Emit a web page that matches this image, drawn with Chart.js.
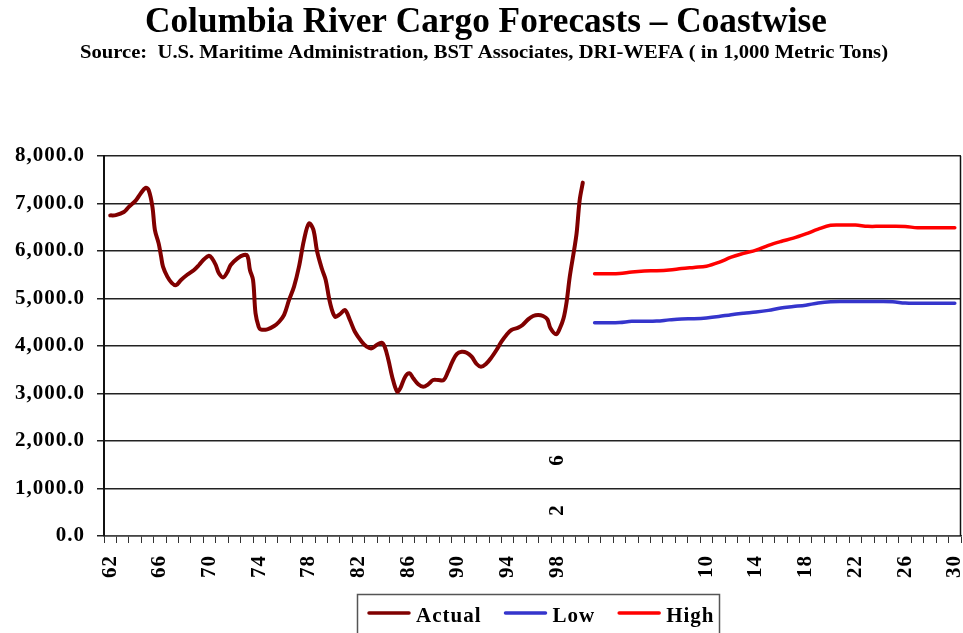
<!DOCTYPE html>
<html>
<head>
<meta charset="utf-8">
<script src="https://cdn.jsdelivr.net/npm/chart.js@4.4.1/dist/chart.umd.min.js"></script>
<style>
  html, body { margin: 0; padding: 0; background: #ffffff; }
  canvas { display: block; }
</style>
</head>
<body>
<canvas id="c" width="963" height="633"></canvas>
<script>
// ---- text ----
const titleText = 'Columbia River Cargo Forecasts \u2013 Coastwise';
const subtitleText = 'Source:  U.S. Maritime Administration, BST Associates, DRI-WEFA ( in 1,000 Metric Tons)';
const seriesNames = ['Actual', 'Low', 'High'];

// ---- category axis (one slot per year) ----
const categoryYears = [1962, 1963, 1964, 1965, 1966, 1967, 1968, 1969, 1970, 1971,
  1972, 1973, 1974, 1975, 1976, 1977, 1978, 1979, 1980, 1981,
  1982, 1983, 1984, 1985, 1986, 1987, 1988, 1989, 1990, 1991,
  1992, 1993, 1994, 1995, 1996, 1997, 1998, 1999, 2000, 2001,
  2002, 2003, 2004, 2005, 2006, 2007, 2008, 2009, 2010, 2011,
  2012, 2013, 2014, 2015, 2016, 2017, 2018, 2019, 2020, 2021,
  2022, 2023, 2024, 2025, 2026, 2027, 2028, 2029, 2030];
const tickLabels = ['62', '66', '70', '74', '78', '82', '86', '90', '94', '98',
  '10', '14', '18', '22', '26', '30'];

// ---- Actual (sub-annual readings, 1,000 metric tons) ----
const actualYears = [1962.0, 1962.45, 1963.1, 1963.5, 1964.05, 1964.45, 1964.85, 1965.1, 1965.4, 1965.6,
  1965.9, 1966.1, 1966.25, 1966.6, 1966.95, 1967.3, 1967.7, 1968.2, 1968.75, 1969.15,
  1969.55, 1969.95, 1970.2, 1970.5, 1970.75, 1971.1, 1971.45, 1971.7, 1972.25, 1972.75,
  1973.05, 1973.25, 1973.5, 1973.7, 1973.95, 1974.1, 1974.65, 1975.2, 1975.6, 1976.0,
  1976.4, 1976.8, 1977.2, 1977.6, 1978.0, 1978.35, 1978.65, 1979.05, 1979.35, 1979.7,
  1980.1, 1980.5, 1980.9, 1981.3, 1981.7, 1982.25, 1982.65, 1983.05, 1983.45, 1983.85,
  1984.1, 1984.4, 1984.7, 1985.1, 1985.35, 1985.75, 1986.1, 1986.4, 1986.8, 1987.2,
  1987.6, 1988.0, 1988.4, 1988.85, 1989.2, 1989.55, 1989.9, 1990.3, 1990.7, 1991.1,
  1991.5, 1991.85, 1992.25, 1992.7, 1993.1, 1993.5, 1993.9, 1994.3, 1994.85, 1995.2,
  1995.65, 1996.05, 1996.45, 1996.85, 1997.2, 1997.45, 1997.9, 1998.2, 1998.5, 1998.75,
  1999.0, 1999.35, 1999.55, 1999.8, 2000.05];
const actualValues = [6750, 6755, 6820, 6930, 7060, 7210, 7330, 7280, 6930, 6440,
  6160, 5880, 5670, 5460, 5330, 5280, 5390, 5500, 5600, 5705,
  5825, 5900, 5845, 5705, 5530, 5445, 5565, 5705, 5845, 5915,
  5895, 5600, 5390, 4690, 4405, 4350, 4350, 4420, 4510, 4655,
  4970, 5250, 5670, 6230, 6580, 6455, 6000, 5620, 5390, 4910,
  4617, 4670, 4758, 4547, 4301, 4091, 3985, 3951, 4021, 4070,
  3985, 3705, 3354, 3038, 3109, 3354, 3425, 3320, 3194, 3143,
  3194, 3284, 3284, 3284, 3459, 3670, 3831, 3880, 3859, 3775,
  3621, 3564, 3621, 3761, 3916, 4091, 4232, 4337, 4386, 4442,
  4561, 4631, 4653, 4631, 4561, 4372, 4246, 4372, 4583, 4933,
  5459, 6021, 6372, 7073, 7440];

// ---- forecasts ----
const forecastYears = [2001, 2002, 2003, 2004, 2005, 2006, 2007, 2008, 2009, 2010,
  2011, 2012, 2013, 2014, 2015, 2016, 2017, 2018, 2019, 2020,
  2021, 2022, 2023, 2024, 2025, 2026, 2027, 2028, 2029, 2030];
const lowValues = [4490, 4490, 4495, 4520, 4520, 4525, 4550, 4570, 4575, 4590,
  4620, 4660, 4690, 4715, 4750, 4800, 4830, 4860, 4905, 4930,
  4935, 4935, 4935, 4935, 4930, 4905, 4900, 4900, 4900, 4900];
const highValues = [5520, 5520, 5525, 5560, 5580, 5585, 5600, 5630, 5655, 5680,
  5760, 5870, 5950, 6020, 6120, 6200, 6270, 6360, 6460, 6540,
  6545, 6545, 6520, 6520, 6520, 6515, 6490, 6490, 6490, 6490];

const SERIF = "'Liberation Serif', 'Times New Roman', serif";
const colors = ['#800000', '#3535CC', '#FF0000'];

function pairs(xs, ys) { return xs.map((x, i) => ({ x: x, y: ys[i] })); }

// Titles, plot frame, legend box and the two loose axis digits
const decorations = {
  id: 'decorations',
  beforeDraw(chart) {
    chart.ctx.letterSpacing = '1px';
  },
  afterDraw(chart) {
    const ctx = chart.ctx;
    const area = chart.chartArea;
    ctx.save();

    // right-hand frame line of the plot area
    ctx.strokeStyle = '#111';
    ctx.lineWidth = 1.5;
    ctx.beginPath();
    ctx.moveTo(area.right - 0.5, area.top);
    ctx.lineTo(area.right - 0.5, area.bottom);
    ctx.stroke();

    // titles, fitted to their widths
    ctx.letterSpacing = '0px';
    ctx.fillStyle = '#000';
    ctx.textBaseline = 'alphabetic';
    ctx.textAlign = 'left';
    function fitted(text, font, left, width, baseline) {
      ctx.font = font;
      const w = ctx.measureText(text).width;
      ctx.save();
      ctx.translate(left, baseline);
      ctx.scale(width / w, 1);
      ctx.fillText(text, 0, 0);
      ctx.restore();
    }
    fitted(titleText, 'bold 36px ' + SERIF, 145, 682, 32);
    fitted(subtitleText, 'bold 19px ' + SERIF, 80, 808, 58);

    // loose rotated digits inside the plot
    ctx.letterSpacing = '1px';
    const xs = chart.scales.x, ys = chart.scales.y;
    const strays = [{ text: '6', year: 1998, value: 1600 }, { text: '2', year: 1998, value: 550 }];
    ctx.font = 'bold 21px ' + SERIF;
    ctx.textAlign = 'center';
    ctx.textBaseline = 'middle';
    strays.forEach(s => {
      const px = xs.getPixelForValue(categoryYears.indexOf(s.year));
      const py = ys.getPixelForValue(s.value);
      ctx.save();
      ctx.translate(px, py);
      ctx.rotate(-Math.PI / 2);
      ctx.fillText(s.text, 0, 0);
      ctx.restore();
    });

    // legend
    const boxLeft = 357, boxTop = 594, boxRight = 719;
    ctx.strokeStyle = '#555';
    ctx.lineWidth = 1.5;
    ctx.strokeRect(boxLeft + 0.5, boxTop + 0.5, boxRight - boxLeft, 60);
    ctx.font = 'bold 21px ' + SERIF;
    ctx.textAlign = 'left';
    ctx.textBaseline = 'alphabetic';
    let x = 369;
    chart.data.datasets.forEach(ds => {
      ctx.strokeStyle = ds.borderColor;
      ctx.lineWidth = 3.5;
      ctx.lineCap = 'round';
      ctx.beginPath();
      ctx.moveTo(x, 613);
      ctx.lineTo(x + 40, 613);
      ctx.stroke();
      ctx.fillStyle = '#000';
      ctx.fillText(ds.label, x + 47, 621.5);
      x += 47 + ctx.measureText(ds.label).width + 24;
    });
    ctx.restore();
  }
};

new Chart(document.getElementById('c'), {
  type: 'line',
  data: {
    labels: categoryYears,
    datasets: [
      { label: seriesNames[0], data: pairs(actualYears, actualValues), borderColor: colors[0], backgroundColor: colors[0],
        borderWidth: 4, xAxisID: 'xd', yAxisID: 'y' },
      { label: seriesNames[1], data: pairs(forecastYears, lowValues), borderColor: colors[1], backgroundColor: colors[1],
        borderWidth: 3.5, xAxisID: 'xd', yAxisID: 'y' },
      { label: seriesNames[2], data: pairs(forecastYears, highValues), borderColor: colors[2], backgroundColor: colors[2],
        borderWidth: 3.5, xAxisID: 'xd', yAxisID: 'y' }
    ]
  },
  options: {
    responsive: false,
    animation: false,
    events: [],
    layout: { padding: { top: 156, right: 2, bottom: 0, left: 0 } },
    elements: {
      point: { radius: 0 },
      line: { tension: 0.35, borderCapStyle: 'round', borderJoinStyle: 'round' }
    },
    plugins: { legend: { display: false }, tooltip: { enabled: false }, title: { display: false } },
    scales: {
      xd: {
        type: 'linear', display: false, min: 1961.5, max: 2030.5
      },
      x: {
        type: 'category',
        position: 'bottom',
        offset: true,
        grid: { display: true, drawOnChartArea: false, drawTicks: true, tickLength: 7, offset: true,
                color: '#333', lineWidth: 1 },
        border: { display: true, color: '#444', width: 1.5 },
        ticks: {
          autoSkip: false, minRotation: 90, maxRotation: 90, padding: 12,
          color: '#000', font: { family: SERIF, size: 21, weight: 'bold' },
          callback: function (value, index) {
            const s = String(categoryYears[index]).slice(2);
            return tickLabels.includes(s) ? s : '';
          }
        },
        afterFit: function (scale) { scale.height = 97; scale.paddingLeft = 0; scale.paddingRight = 0; }
      },
      y: {
        type: 'linear', position: 'left', min: 0, max: 8000,
        grid: { color: '#222', lineWidth: 1.5, tickLength: 7, drawTicks: true },
        border: { display: true, color: '#111', width: 2 },
        ticks: {
          stepSize: 1000, padding: 12, color: '#000',
          font: { family: SERIF, size: 21, weight: 'bold' },
          callback: v => v.toLocaleString('en-US', { minimumFractionDigits: 1, maximumFractionDigits: 1 })
        },
        afterFit: function (scale) { scale.width = 104; scale.paddingTop = 0; scale.paddingBottom = 0; }
      }
    }
  },
  plugins: [decorations]
});
</script>
</body>
</html>
